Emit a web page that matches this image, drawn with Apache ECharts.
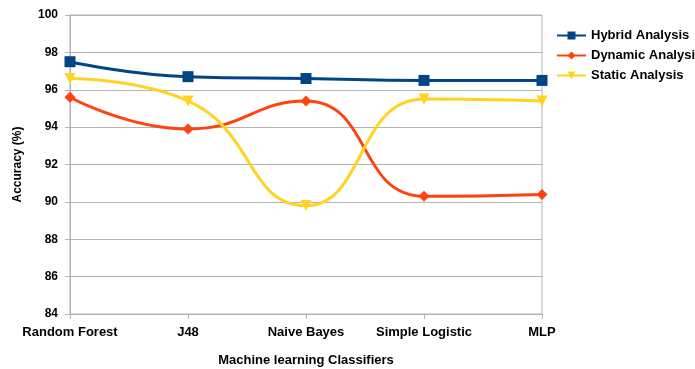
<!DOCTYPE html>
<html><head><meta charset="utf-8">
<script src="https://cdn.jsdelivr.net/npm/echarts@6/dist/echarts.min.js"></script>
<style>html,body{margin:0;padding:0;background:#fff}#c{width:695px;height:369px}</style>
</head><body><div id="c"></div>
<script>
const categories = ['Random Forest','J48','Naive Bayes','Simple Logistic','MLP'];
const hybrid = [97.5, 96.7, 96.6, 96.5, 96.5];
const dynamic = [95.6, 93.9, 95.4, 90.3, 90.4];
const staticA = [96.6, 95.4, 89.8, 95.5, 95.4];
const yTicks = {min: 84, max: 100, interval: 2};

const font = 'Liberation Sans, Arial, sans-serif';
const chart = echarts.init(document.getElementById('c'));
function ser(name, data, color, symbol, size, rot) {
  return {name, type:'line', data, smooth:0.5, symbol, symbolSize:size, symbolRotate:rot||0,
    lineStyle:{color, width:3}, itemStyle:{color}, showSymbol:true};
}
chart.setOption({
  animation:false,
  textStyle:{fontFamily:font},
  grid:{left:70, right:153, top:15, bottom:55, show:true, borderColor:'#b3b3b3', borderWidth:1,
    containLabel:false, outerBoundsMode:'none'},
  legend:{orient:'vertical', left:551, top:24, itemGap:7, itemWidth:29, itemHeight:10,
    textStyle:{fontFamily:font, fontWeight:'bold', fontSize:13, color:'#000'},
    data:['Hybrid Analysis','Dynamic Analysis','Static Analysis']},
  xAxis:{type:'category', data:categories, boundaryGap:false,
    name:'Machine learning Classifiers', nameLocation:'middle', nameGap:40,
    nameTextStyle:{fontFamily:font, fontWeight:'bold', fontSize:13, color:'#000'},
    axisLine:{lineStyle:{color:'#b3b3b3'}},
    axisTick:{show:true, alignWithLabel:true, interval:0, length:5, lineStyle:{color:'#b3b3b3'}},
    axisLabel:{interval:0, hideOverlap:false, fontFamily:font, fontWeight:'bold', fontSize:13, color:'#000', margin:12},
    splitLine:{show:false}},
  yAxis:{type:'value', min:yTicks.min, max:yTicks.max, interval:yTicks.interval,
    name:'Accuracy (%)', nameLocation:'middle', nameGap:46, nameRotate:90,
    nameTextStyle:{fontFamily:font, fontWeight:'bold', fontSize:12, color:'#000'},
    axisLine:{show:true, lineStyle:{color:'#b3b3b3'}},
    axisTick:{show:true, length:5, lineStyle:{color:'#b3b3b3'}},
    axisLabel:{fontFamily:font, fontWeight:'bold', fontSize:12, color:'#000', margin:12},
    splitLine:{lineStyle:{color:'#b3b3b3'}}},
  series:[
    ser('Hybrid Analysis', hybrid, '#004586', 'rect', 11),
    ser('Dynamic Analysis', dynamic, '#ff420e', 'diamond', 11),
    ser('Static Analysis', staticA, '#ffd320', 'triangle', 11, 180)
  ]
});
</script>
</body></html>
